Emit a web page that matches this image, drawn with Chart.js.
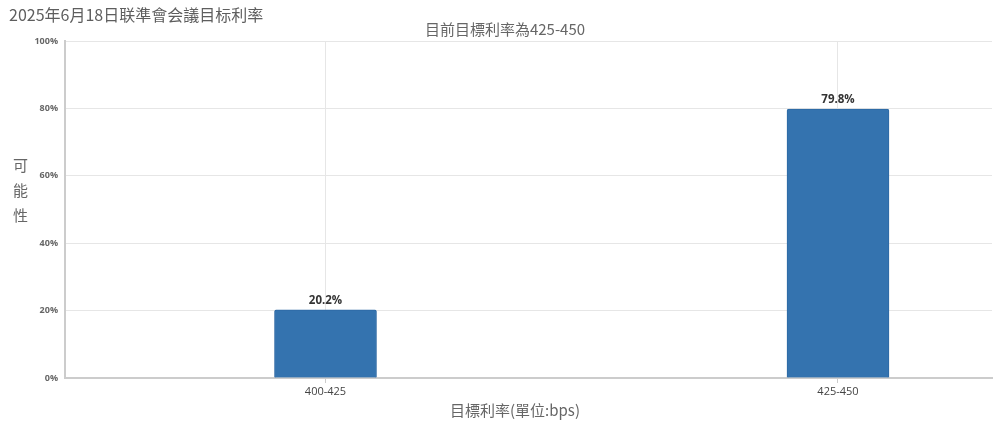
<!DOCTYPE html>
<html>
<head>
<meta charset="utf-8">
<script src="https://cdn.jsdelivr.net/npm/chart.js@4/dist/chart.umd.min.js"></script>
<style>
  html, body { margin: 0; padding: 0; background: #fff; overflow: hidden; }
  #wrap { width: 993px; height: 425px; position: relative; }
</style>
</head>
<body>
<div id="wrap"><canvas id="c"></canvas></div>
<script>
const mainTitle = "2025年6月18日联準會会議目标利率";
const subTitle = "目前目標利率為425-450";
const xTitle = "目標利率(單位:bps)";
const yTitleChars = ["可", "能", "性"];
const categories = ["400-425", "425-450"];
const probabilities = [20.2, 79.8];
const yTicks = [0, 20, 40, 60, 80, 100];

const CJK = "'Noto Sans CJK SC', 'Noto Sans CJK TC', sans-serif";
const LATIN = "'Open Sans', 'Noto Sans CJK SC', sans-serif";

const textPlugin = {
  id: 'textPlugin',
  afterDraw(chart) {
    const ctx = chart.ctx;
    ctx.save();
    ctx.textBaseline = 'middle';
    // main title
    ctx.font = "16px " + CJK;
    ctx.fillStyle = '#5e5e5e';
    ctx.textAlign = 'left';
    ctx.fillText(mainTitle, 9, 15);
    // subtitle
    ctx.font = "15px " + CJK;
    ctx.fillStyle = '#666';
    ctx.textAlign = 'center';
    ctx.fillText(subTitle, 505, 29);
    // x title
    ctx.fillText(xTitle, 515, 410);
    // y title stacked
    yTitleChars.forEach((ch, i) => ctx.fillText(ch, 20.5, 165 + i * 25));
    // data labels
    ctx.font = "bold 11.5px " + LATIN;
    ctx.fillStyle = '#333';
    ctx.textBaseline = 'alphabetic';
    const meta = chart.getDatasetMeta(0);
    meta.data.forEach((bar, i) => {
      ctx.fillText(probabilities[i].toFixed(1) + '%', bar.x, bar.y - 6);
    });
    ctx.restore();
  }
};

new Chart(document.getElementById('c'), {
  type: 'bar',
  data: {
    datasets: [{
      data: categories.map((c, i) => ({ x: i, y: probabilities[i] })),
      backgroundColor: '#3473af',
      borderColor: '#2d68a3',
      borderWidth: 1,
      borderRadius: { topLeft: 2, topRight: 2 },
      borderSkipped: 'bottom',
      barThickness: 102
    }]
  },
  options: {
    responsive: true,
    maintainAspectRatio: false,
    animation: false,
    layout: { padding: { top: 41, left: 0, right: 1, bottom: 0 } },
    plugins: { legend: { display: false }, tooltip: { enabled: false }, title: { display: false } },
    scales: {
      x: {
        type: 'linear',
        offset: false,
        min: -0.5083,
        max: 1.3005,
        afterBuildTicks: (scale) => { scale.ticks = categories.map((c, i) => ({ value: i })); },
        afterFit: (scale) => { scale.height = 47; },
        grid: { offset: false, color: '#e6e6e6', lineWidth: 1, drawTicks: true, tickLength: 5, tickColor: '#ccc' },
        border: { color: '#ccc', width: 2 },
        ticks: {
          padding: 2,
          autoSkip: false,
          maxRotation: 0,
          color: '#444',
          font: { family: LATIN, size: 11 },
          callback: (v) => categories[v]
        }
      },
      y: {
        min: 0,
        max: 100,
        afterBuildTicks: (scale) => { scale.ticks = yTicks.map(v => ({ value: v })); },
        afterFit: (scale) => { scale.width = 65; },
        grid: { color: '#e6e6e6', lineWidth: 1, drawTicks: false },
        border: { color: '#ccc', width: 2 },
        ticks: {
          padding: 7,
          color: '#666',
          font: { family: LATIN, size: 9, weight: 'bold' },
          callback: (v) => v + '%'
        }
      }
    }
  },
  plugins: [textPlugin]
});
</script>
</body>
</html>
